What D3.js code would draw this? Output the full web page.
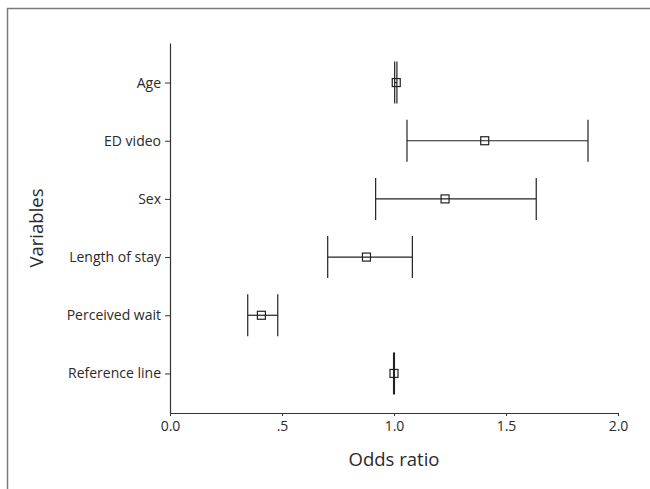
<!DOCTYPE html>
<html>
<head>
<meta charset="utf-8">
<script src="https://cdn.jsdelivr.net/npm/d3@7"></script>
<style>
  body { margin: 0; background: #fff; }
  svg { display: block; }
</style>
</head>
<body>
<div id="chart"></div>
<script>
// Data
const variables = ["Age", "ED video", "Sex", "Length of stay", "Perceived wait", "Reference line"];
const oddsRatio = [1.01, 1.405, 1.228, 0.877, 0.408, 1.0];
const ciLower = [1.003, 1.058, 0.918, 0.704, 0.347, 0.998];
const ciUpper = [1.013, 1.866, 1.635, 1.082, 0.481, 1.002];
const xTicks = [0, 0.5, 1.0, 1.5, 2.0];
const xTickLabels = ["0.0", ".5", "1.0", "1.5", "2.0"];

const width = 650, height = 489;
const margin = { top: 43, right: 32, bottom: 76, left: 170 };
const font = "'Open Sans', 'Noto Sans', sans-serif";

const svg = d3.select("#chart")
  .append("svg")
  .attr("width", width)
  .attr("height", height);

// outer frame (only top and left edges visible)
svg.append("rect")
  .attr("x", 7.5)
  .attr("y", 8.5)
  .attr("width", 700)
  .attr("height", 600)
  .attr("fill", "none")
  .attr("stroke", "#7a7a7a")
  .attr("stroke-width", 1.5);

const x = d3.scaleLinear()
  .domain([0, 2])
  .range([margin.left, width - margin.right]);

const y = d3.scalePoint()
  .domain(variables)
  .range([margin.top, height - margin.bottom])
  .padding(0.68);

// axes
const xAxis = d3.axisBottom(x)
  .tickValues(xTicks)
  .tickFormat((d, i) => xTickLabels[i])
  .tickSizeInner(3)
  .tickSizeOuter(0)
  .tickPadding(5);

const yAxis = d3.axisLeft(y)
  .tickSizeInner(5)
  .tickSizeOuter(0)
  .tickPadding(4);

const gx = svg.append("g")
  .attr("transform", `translate(0,${height - margin.bottom})`)
  .call(xAxis);

const gy = svg.append("g")
  .attr("transform", `translate(${margin.left},0)`)
  .call(yAxis);

[gx, gy].forEach(g => {
  g.select(".domain").attr("stroke", "#333").attr("stroke-width", 1.2);
  g.selectAll(".tick line").attr("stroke", "#333");
  g.selectAll(".tick text")
    .attr("font-family", font)
    .attr("font-size", "14px")
    .attr("fill", "#2a2a2a");
});

// error bars
const rows = variables.map((v, i) => ({
  name: v, or: oddsRatio[i], lo: ciLower[i], hi: ciUpper[i]
}));
const half = 21;
const bars = svg.append("g").attr("stroke", "#222").attr("stroke-width", 1.2);

bars.selectAll(".ci")
  .data(rows)
  .enter()
  .append("line")
  .attr("x1", d => x(d.lo))
  .attr("x2", d => x(d.hi))
  .attr("y1", d => y(d.name))
  .attr("y2", d => y(d.name));

bars.selectAll(".lo")
  .data(rows)
  .enter()
  .append("line")
  .attr("x1", d => x(d.lo))
  .attr("x2", d => x(d.lo))
  .attr("y1", d => y(d.name) - half)
  .attr("y2", d => y(d.name) + half);

bars.selectAll(".hi")
  .data(rows)
  .enter()
  .append("line")
  .attr("x1", d => x(d.hi))
  .attr("x2", d => x(d.hi))
  .attr("y1", d => y(d.name) - half)
  .attr("y2", d => y(d.name) + half);

const sq = 8;
bars.selectAll(".pt")
  .data(rows)
  .enter()
  .append("rect")
  .attr("x", d => x(d.or) - sq / 2)
  .attr("y", d => y(d.name) - sq / 2)
  .attr("width", sq)
  .attr("height", sq)
  .attr("fill", "none");

// axis titles
svg.append("text")
  .attr("x", (x(0) + x(2)) / 2)
  .attr("y", 466)
  .attr("text-anchor", "middle")
  .attr("font-family", font)
  .attr("font-size", "18.5px")
  .attr("fill", "#2a2a2a")
  .text("Odds ratio");

svg.append("text")
  .attr("transform", `translate(43,${(margin.top + height - margin.bottom) / 2}) rotate(-90)`)
  .attr("text-anchor", "middle")
  .attr("font-family", font)
  .attr("font-size", "18.5px")
  .attr("fill", "#2a2a2a")
  .text("Variables");
</script>
</body>
</html>
